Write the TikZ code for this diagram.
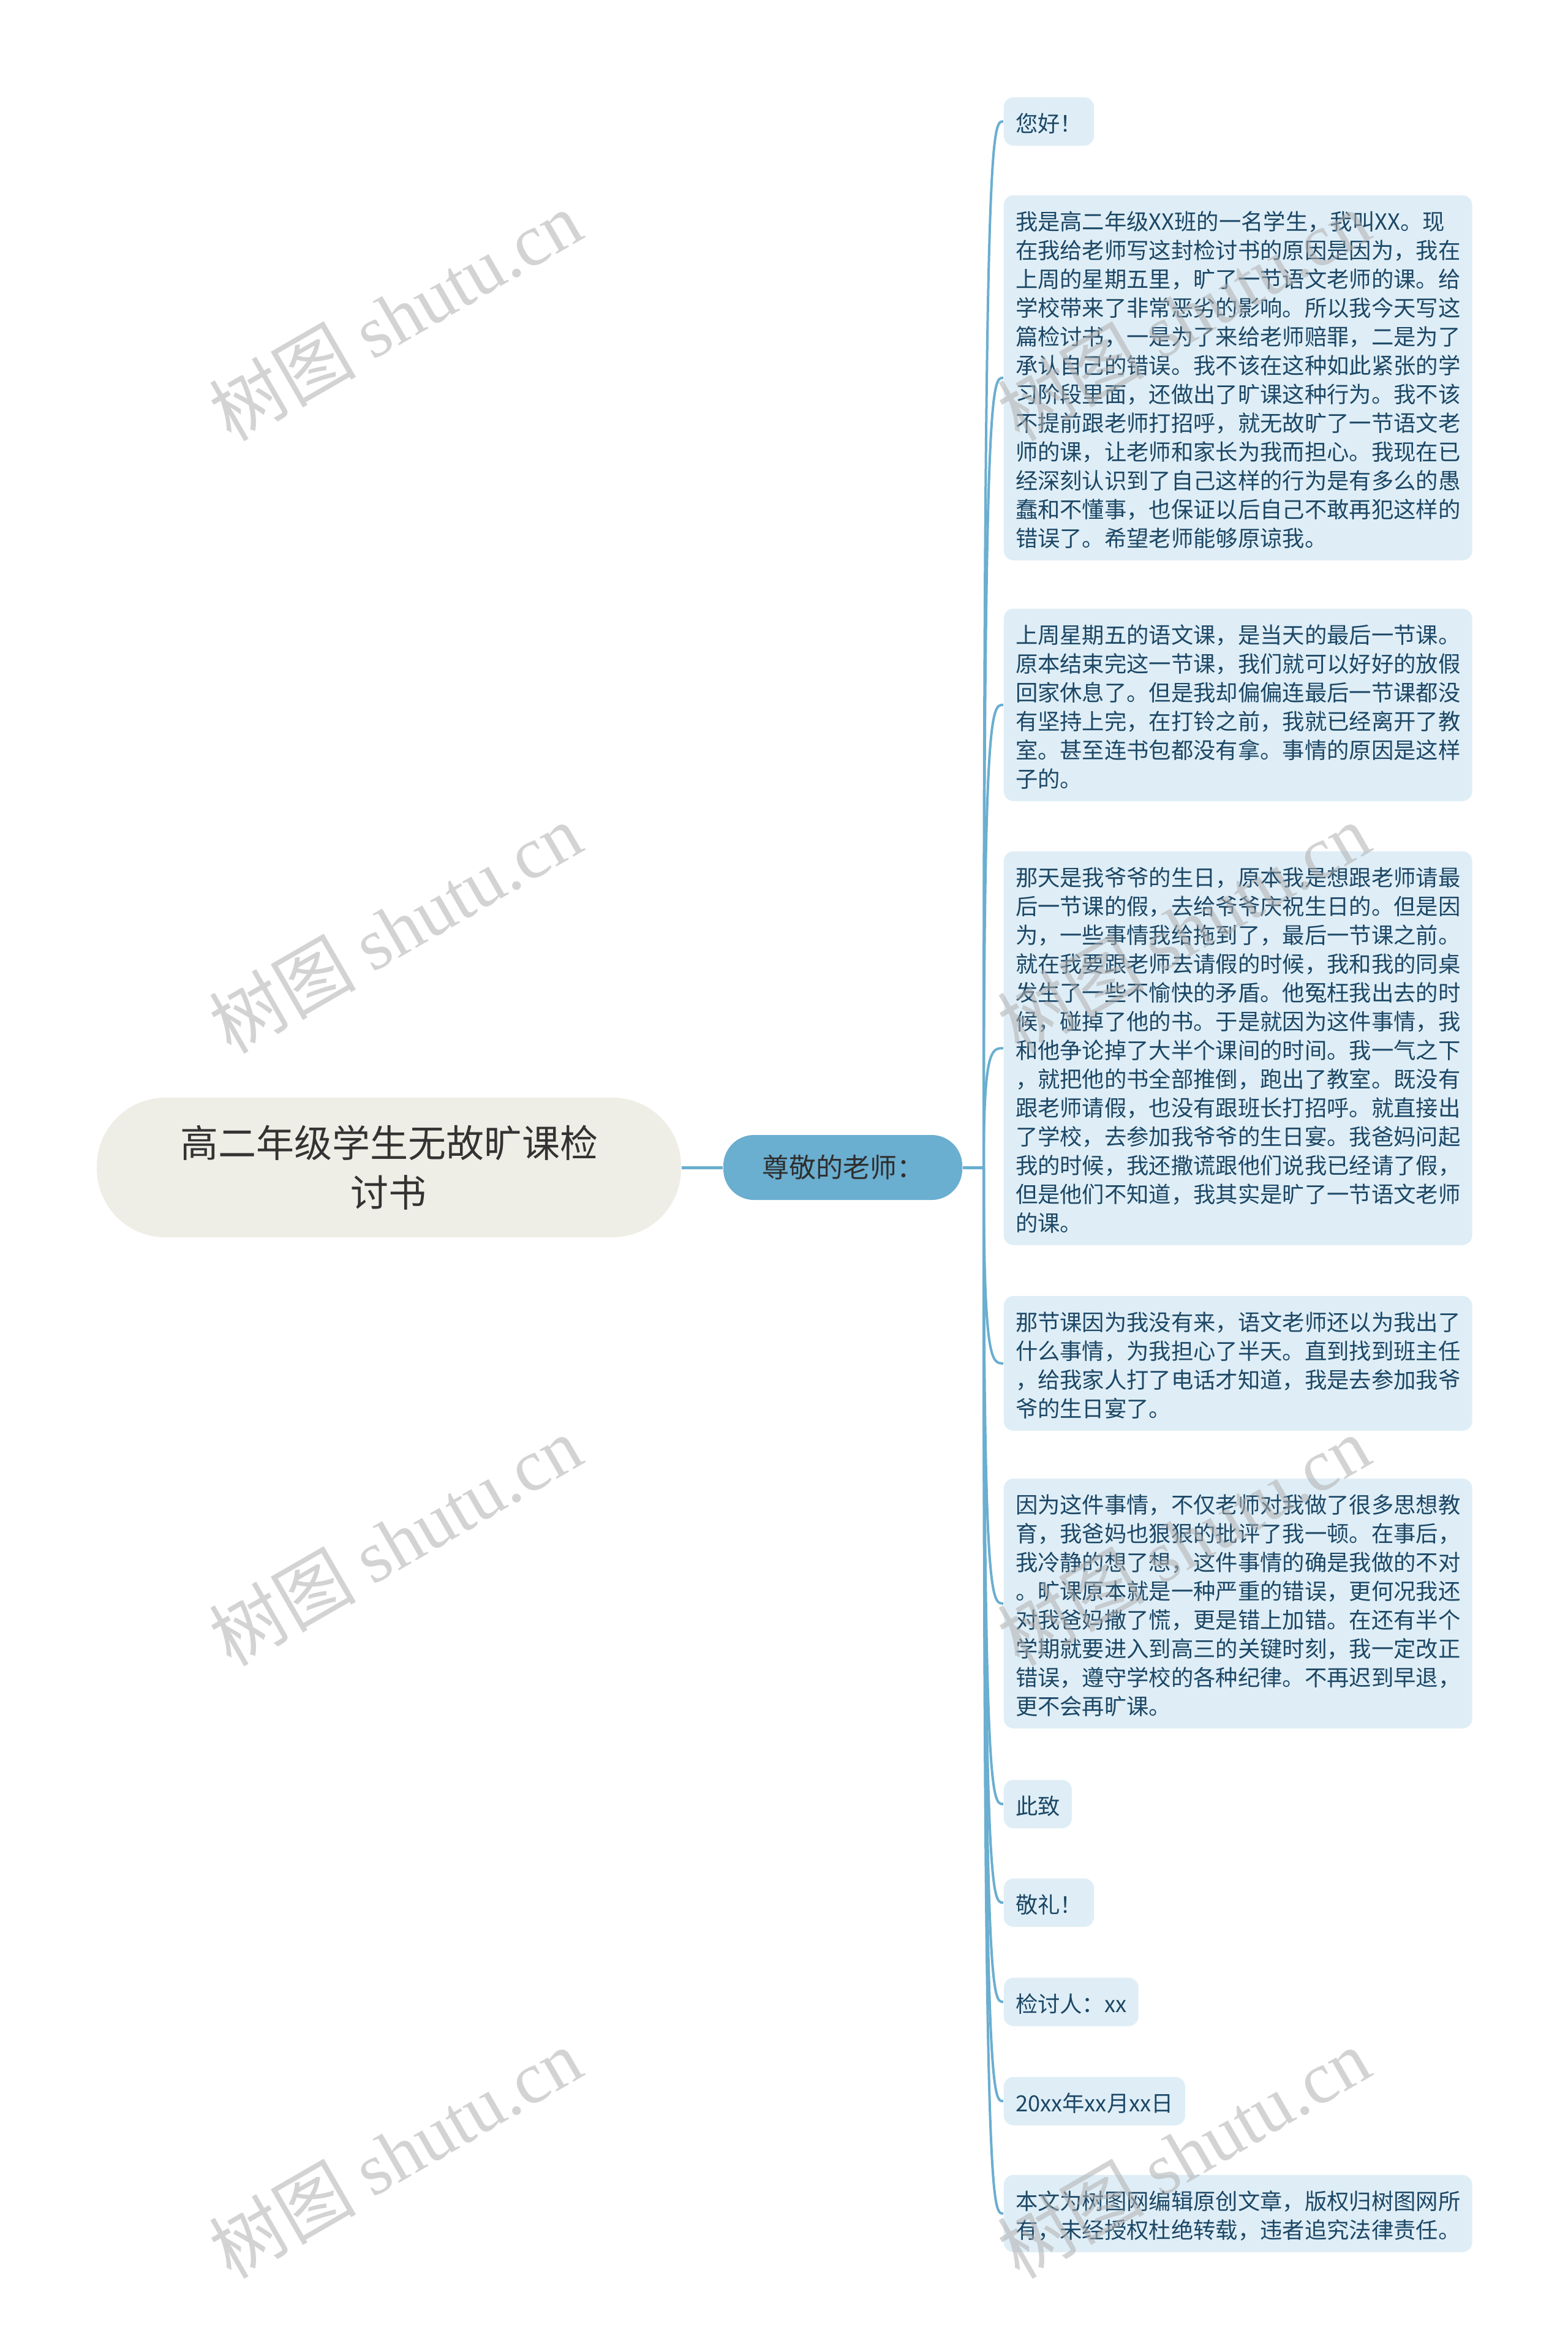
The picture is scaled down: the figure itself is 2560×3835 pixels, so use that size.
\documentclass[tikz,border=0pt]{standalone}
\usepackage{fontspec}
\setmainfont{Noto Sans CJK SC}
\newfontfamily\wmlatin{Liberation Serif}
\usetikzlibrary{calc}
\definecolor{rootfill}{HTML}{EFEEE6}
\definecolor{roottext}{HTML}{333333}
\definecolor{branchfill}{HTML}{6AAED0}
\definecolor{branchtext}{HTML}{2E2E2E}
\definecolor{leaffill}{HTML}{DFEEF6}
\definecolor{leaftext}{HTML}{1C4766}
\definecolor{linecol}{HTML}{6AAED0}
\definecolor{wmcol}{HTML}{B0B0B0}
\newcommand{\leaftopstrut}{\rule{0pt}{10.225pt}}
\newcommand{\leafbotstrut}{\rule[-1.525pt]{0pt}{1pt}}
\tikzset{
  leaf/.style={anchor=north west, fill=leaffill, rounded corners=4pt,
    inner xsep=4.8pt, inner ysep=4pt, text=leaftext,
    font=\fontsize{9.08}{11.75}\selectfont,
    execute at begin node=\leaftopstrut, execute at end node=\leafbotstrut, align=left},
  wideleaf/.style={leaf, text width=181.6pt},
  rootnode/.style={fill=rootfill, rounded corners=28pt, minimum width=238.5pt,
    minimum height=57pt, text=roottext, align=center,
    font=\fontsize{15.5}{20.25}\selectfont},
  branchnode/.style={fill=branchfill, rounded corners=12.5pt, minimum width=97.5pt,
    minimum height=26.5pt, text=branchtext, font=\fontsize{11}{13}\selectfont},
  conn/.style={draw=linecol, line width=1pt},
  trunk/.style={draw=linecol, line width=1.25pt},
  wm/.style={rotate=30, text=wmcol, opacity=0.55, font=\fontsize{30}{30}\selectfont}
}
\begin{document}
\begin{tikzpicture}[x=0.25pt,y=-0.25pt]
\useasboundingbox[fill=white] (0,0) rectangle (2560,3835);

\node[rootnode] (root) at (635,1906) {高二年级学生无故旷课检\\讨书};
\node[branchnode] (br) at (1376,1906) {尊敬的老师：};
\coordinate (j) at (1606,1906);

\node[leaf] (c1) at (1638,158) {您好！};
\node[wideleaf] (c2) at (1638,318) {我是高二年级XX班的一名学生，我叫XX。现\\在我给老师写这封检讨书的原因是因为，我在\\上周的星期五里，旷了一节语文老师的课。给\\学校带来了非常恶劣的影响。所以我今天写这\\篇检讨书，一是为了来给老师赔罪，二是为了\\承认自己的错误。我不该在这种如此紧张的学\\习阶段里面，还做出了旷课这种行为。我不该\\不提前跟老师打招呼，就无故旷了一节语文老\\师的课，让老师和家长为我而担心。我现在已\\经深刻认识到了自己这样的行为是有多么的愚\\蠢和不懂事，也保证以后自己不敢再犯这样的\\错误了。希望老师能够原谅我。};
\node[wideleaf] (c3) at (1638,993) {上周星期五的语文课，是当天的最后一节课。\\原本结束完这一节课，我们就可以好好的放假\\回家休息了。但是我却偏偏连最后一节课都没\\有坚持上完，在打铃之前，我就已经离开了教\\室。甚至连书包都没有拿。事情的原因是这样\\子的。};
\node[wideleaf] (c4) at (1638,1389) {那天是我爷爷的生日，原本我是想跟老师请最\\后一节课的假，去给爷爷庆祝生日的。但是因\\为，一些事情我给拖到了，最后一节课之前。\\就在我要跟老师去请假的时候，我和我的同桌\\发生了一些不愉快的矛盾。他冤枉我出去的时\\候，碰掉了他的书。于是就因为这件事情，我\\和他争论掉了大半个课间的时间。我一气之下\\，就把他的书全部推倒，跑出了教室。既没有\\跟老师请假，也没有跟班长打招呼。就直接出\\了学校，去参加我爷爷的生日宴。我爸妈问起\\我的时候，我还撒谎跟他们说我已经请了假，\\但是他们不知道，我其实是旷了一节语文老师\\的课。};
\node[wideleaf] (c5) at (1638,2115) {那节课因为我没有来，语文老师还以为我出了\\什么事情，为我担心了半天。直到找到班主任\\，给我家人打了电话才知道，我是去参加我爷\\爷的生日宴了。};
\node[wideleaf] (c6) at (1638,2413) {因为这件事情，不仅老师对我做了很多思想教\\育，我爸妈也狠狠的批评了我一顿。在事后，\\我冷静的想了想，这件事情的确是我做的不对\\。旷课原本就是一种严重的错误，更何况我还\\对我爸妈撒了慌，更是错上加错。在还有半个\\学期就要进入到高三的关键时刻，我一定改正\\错误，遵守学校的各种纪律。不再迟到早退，\\更不会再旷课。};
\node[leaf] (c7) at (1638,2905) {此致};
\node[leaf] (c8) at (1638,3066) {敬礼！};
\node[leaf] (c9) at (1638,3228) {检讨人：xx};
\node[leaf] (c10) at (1638,3390) {20xx年xx月xx日};
\node[wideleaf] (c11) at (1638,3550) {本文为树图网编辑原创文章，版权归树图网所\\有，未经授权杜绝转载，违者追究法律责任。};

\draw[trunk] (root.east) -- (br.west);
\draw[trunk] (br.east) -- (j);
\foreach \c in {c1,c2,c3,c4,c5,c6,c7,c8,c9,c10,c11}
  \draw[conn] (j) .. controls (j |- \c.west) and ($(j |- \c.west)+(13,0)$) .. (\c.west);

\foreach \yy [count=\i] in {515,1515,2515,3515} {
  \node[wm] (wl\i) at (645,\yy) {树图 {\wmlatin shutu.cn}};
  \node[wm] (wr\i) at (1932,\yy) {树图 {\wmlatin shutu.cn}};
}
\end{tikzpicture}
\end{document}
